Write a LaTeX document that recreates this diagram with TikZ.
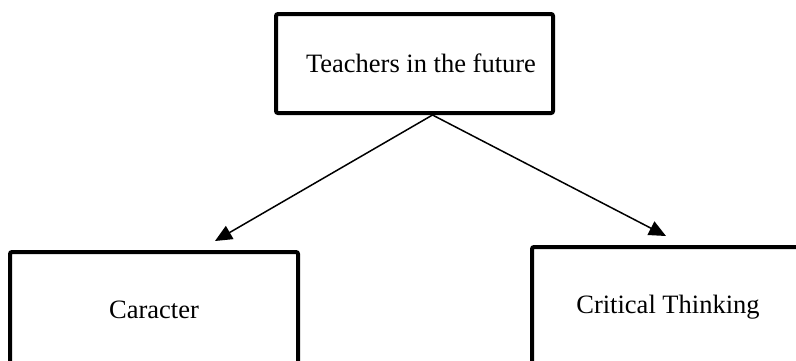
\documentclass[tikz,border=0pt]{standalone}
\usepackage{fontspec}
\setmainfont{Liberation Serif}
\usetikzlibrary{calc,arrows.meta}

\begin{document}
\begin{tikzpicture}[
  x=1pt, y=1pt,
  topicbox/.style={rectangle, rounded corners=2pt, draw=black, line width=4pt,
    font=\fontsize{26.5}{30}\selectfont, align=center, inner sep=0pt},
  arr/.style={-{Triangle[length=17pt,width=15pt]}, line width=1.5pt}
]
  \useasboundingbox (0,0) rectangle (796,360);

  % top box
  \node[topicbox, minimum width=277pt, minimum height=99pt] (teachers) at (414.5,296.5) {\hspace*{13pt}Teachers in the future};

  % lower boxes (run off the page edges)
  \node[topicbox, minimum width=288pt, minimum height=116pt] (caracter) at (154,50) {Caracter};
  \node[topicbox, minimum width=272pt, minimum height=120pt] (critical) at (668,53) {Critical Thinking};

  % arrows
  \coordinate (fork) at ([xshift=18pt]teachers.south);
  \coordinate (tipL) at ([xshift=61pt,yshift=9pt]caracter.north);
  \coordinate (tipR) at ([xshift=-2pt,yshift=9pt]critical.north);
  \draw[arr] (fork) -- (tipL);
  \draw[arr] (fork) -- (tipR);
\end{tikzpicture}
\end{document}
